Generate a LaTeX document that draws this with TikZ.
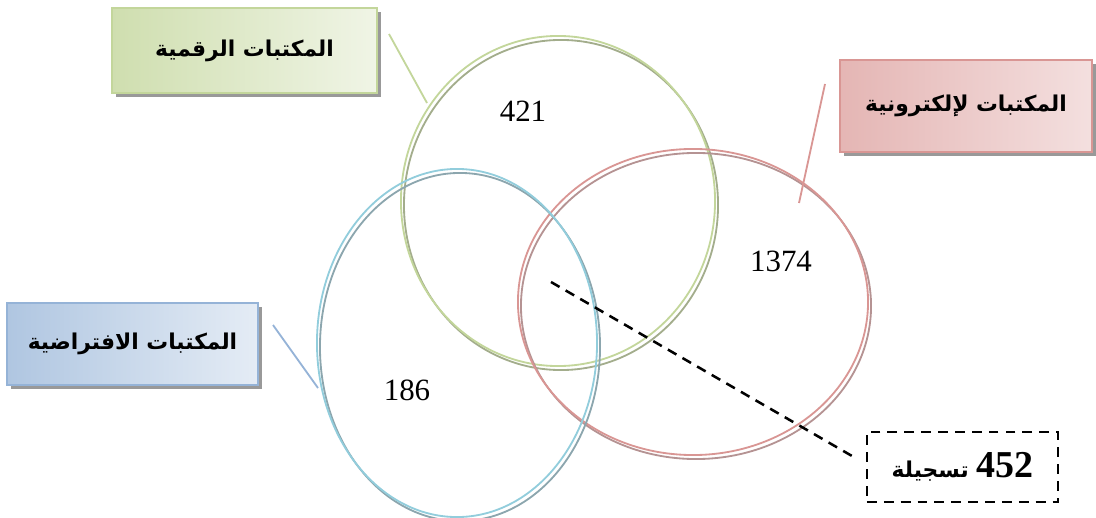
\documentclass[tikz,border=0pt]{standalone}
\usepackage{fontspec}
\setmainfont{Liberation Serif}
\newfontfamily\arabicfont[Script=Arabic]{DejaVu Sans}
\TeXXeTstate=1
\usetikzlibrary{shapes.geometric,shadows}
\definecolor{gline}{HTML}{C3D69B}
\definecolor{gdark}{HTML}{A3AD8C}
\definecolor{rline}{HTML}{D99694}
\definecolor{rdark}{HTML}{B59393}
\definecolor{bline}{HTML}{92CDDC}
\definecolor{bdark}{HTML}{8CA6AE}
\definecolor{bbox}{HTML}{95B3D7}
\begin{document}
\begin{tikzpicture}[x=0.025cm,y=-0.025cm,
    set/.style={ellipse,inner sep=0pt,line width=1.3pt},
    lbl/.style={rectangle,line width=1pt,inner sep=0pt,font=\arabicfont\bfseries\fontsize{15.5}{18}\selectfont,
      drop shadow={shadow xshift=3pt,shadow yshift=-3pt,fill=black!40,opacity=1}},
    num/.style={font=\fontsize{22}{26}\selectfont}]
  \useasboundingbox (0,0) rectangle (1096,518);
  \node[set,draw=gline,minimum width=7.85cm,minimum height=8.25cm,
    preaction={draw=gdark,line width=1.3pt,transform canvas={shift={(3,4)}}}] (digital) at (558,201) {};
  \node[set,draw=rline,minimum width=8.75cm,minimum height=7.65cm,
    preaction={draw=rdark,line width=1.3pt,transform canvas={shift={(3,4)}}}] (electronic) at (693,302) {};
  \node[set,draw=bline,minimum width=7cm,minimum height=8.7cm,
    preaction={draw=bdark,line width=1.3pt,transform canvas={shift={(3,4)}}}] (virtual) at (457,343) {};
  \node[num] (ndigital) at (523,111) {421};
  \node[num] (nelectronic) at (781,261) {1374};
  \node[num] (nvirtual) at (407,390) {186};
  \node[lbl,draw=gline,left color=gline!80,right color=gline!25,minimum width=6.625cm,minimum height=2.125cm]
    (ldigital) at (244.5,50.5) {\beginR المكتبات الرقمية\endR};
  \node[lbl,draw=rline,left color=rline!70,right color=rline!30,minimum width=6.3cm,minimum height=2.3cm]
    (lelectronic) at (966,106) {\beginR المكتبات لإلكترونية\endR};
  \node[lbl,draw=bbox,left color=bbox!75,right color=bbox!25,minimum width=6.275cm,minimum height=2.05cm]
    (lvirtual) at (132.5,344) {\beginR المكتبات الافتراضية\endR};
  \node[draw,dash pattern=on 7pt off 5pt,line width=1.8pt,minimum width=4.775cm,minimum height=1.75cm,
    font=\arabicfont\bfseries\fontsize{15.5}{18}\selectfont] (total) at (962.5,467)
    {\beginR\beginL{\rmfamily\bfseries\fontsize{27}{30}\selectfont 452}\endL{} تسجيلة\endR};
  \coordinate (gs) at (389,34);
  \coordinate (ge) at (427,103);
  \coordinate (rs) at (825,84);
  \coordinate (re) at (799,203);
  \coordinate (bs) at (273,325);
  \coordinate (be) at (318,388);
  \coordinate (ts) at (551,282);
  \coordinate (te) at (852,456);
  \draw[gline,line width=1.3pt] (gs) -- (ge);
  \draw[rline,line width=1.3pt] (rs) -- (re);
  \draw[bbox,line width=1.3pt] (bs) -- (be);
  \draw[dash pattern=on 7pt off 5pt,line width=1.8pt] (ts) -- (te);
\end{tikzpicture}
\end{document}
